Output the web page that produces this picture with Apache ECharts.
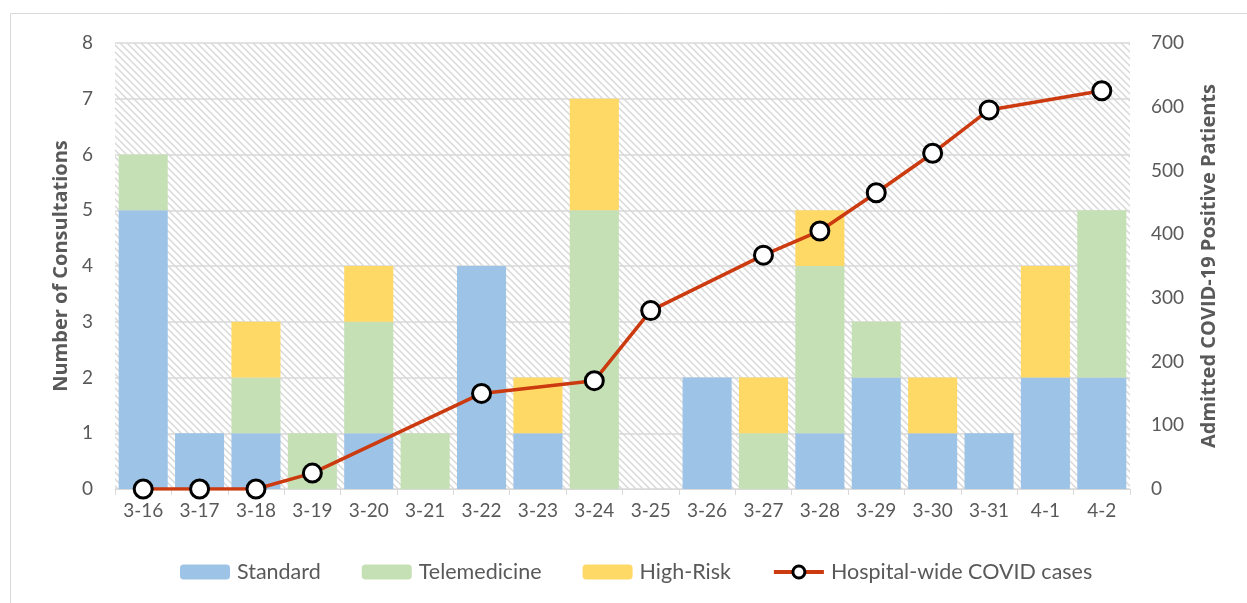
<!DOCTYPE html>
<html>
<head>
<meta charset="utf-8">
<script src="https://cdn.jsdelivr.net/npm/echarts@6/dist/echarts.min.js"></script>
<style>
  html, body { margin: 0; padding: 0; background: #fff; }
  #chart { width: 1247px; height: 603px; }
</style>
</head>
<body>
<div id="chart"></div>
<script>
const days = ['3-16', '3-17', '3-18', '3-19', '3-20', '3-21', '3-22', '3-23', '3-24',
  '3-25', '3-26', '3-27', '3-28', '3-29', '3-30', '3-31', '4-1', '4-2'];
const standard     = [5, 1, 1, 0, 1, 0, 4, 1, 0, 0, 2, 0, 1, 2, 1, 1, 2, 2];
const telemedicine = [1, 0, 1, 1, 2, 1, 0, 0, 5, 0, 0, 1, 3, 1, 0, 0, 0, 3];
const highRisk     = [0, 0, 1, 0, 1, 0, 0, 1, 2, 0, 0, 1, 1, 0, 1, 0, 2, 0];
// hospital-wide cases, only some days were reported
const covidCases   = [0, 0, 0, 25, null, null, 150, null, 170, 280, null, 367, 405, 465, 527, 595, null, 625];
const leftTicks = [0, 1, 2, 3, 4, 5, 6, 7, 8];
const rightTicks = [0, 100, 200, 300, 400, 500, 600, 700];

// diagonal hatch for plot background
const hatch = document.createElement('canvas');
hatch.width = 7;
hatch.height = 7;
const hc = hatch.getContext('2d');
hc.strokeStyle = '#d9d9d9';
hc.lineWidth = 1.5;
hc.beginPath();
hc.moveTo(-1, -1); hc.lineTo(8, 8);
hc.moveTo(-8, -1); hc.lineTo(1, 8);
hc.moveTo(6, -1); hc.lineTo(15, 8);
hc.stroke();

const font = 'Lato, "Open Sans", sans-serif';
const nameFont = '"Open Sans", Lato, sans-serif';
const labelColor = '#595959';

const chart = echarts.init(document.getElementById('chart'));

const barSeries = (name, data, color) => ({
  name: name,
  type: 'bar',
  stack: 'consults',
  barCategoryGap: '13%',
  itemStyle: { color: color },
  data: data
});

chart.setOption({
  animation: false,
  textStyle: { fontFamily: font },
  graphic: [{
    type: 'rect',
    shape: { x: 10.5, y: 13.5, width: 1300, height: 700 },
    style: { fill: 'none', stroke: '#d9d9d9', lineWidth: 1 },
    silent: true
  }],
  grid: {
    left: 115,
    right: 117,
    top: 43,
    bottom: 114,
    show: true,
    borderWidth: 0,
    backgroundColor: { image: hatch, repeat: 'repeat' }
  },
  legend: {
    bottom: 15,
    left: 175,
    itemWidth: 50,
    itemHeight: 15,
    itemGap: 41,
    textStyle: { fontSize: 21.5, color: labelColor, fontFamily: font, padding: [0, 0, 0, 2] },
    data: ['Standard', 'Telemedicine', 'High-Risk', {
      name: 'Hospital-wide COVID cases',
      lineStyle: { width: 4 },
      itemStyle: { borderWidth: 3 }
    }]
  },
  xAxis: {
    type: 'category',
    data: days,
    axisLine: { lineStyle: { color: '#d9d9d9', width: 1 } },
    axisTick: { show: true, length: 6, lineStyle: { color: '#d9d9d9' } },
    axisLabel: { color: labelColor, fontSize: 19, margin: 12 }
  },
  yAxis: [{
    type: 'value',
    min: leftTicks[0],
    max: leftTicks[leftTicks.length - 1],
    interval: 1,
    name: 'Number of Consultations',
    nameLocation: 'middle',
    nameGap: 44,
    nameTextStyle: { fontSize: 20, fontWeight: 'bold', color: labelColor, fontFamily: nameFont },
    axisLine: { show: false },
    axisTick: { show: false },
    axisLabel: { color: labelColor, fontSize: 19, margin: 22 },
    splitLine: { lineStyle: { color: '#d9d9d9', width: 1.5 } }
  }, {
    type: 'value',
    min: rightTicks[0],
    max: rightTicks[rightTicks.length - 1],
    interval: 100,
    name: 'Admitted COVID-19 Positive Patients',
    nameLocation: 'middle',
    nameGap: 69,
    nameRotate: 90,
    nameTextStyle: { fontSize: 20, fontWeight: 'bold', color: labelColor, fontFamily: nameFont },
    axisLine: { show: false },
    axisTick: { show: false },
    axisLabel: { color: labelColor, fontSize: 19, margin: 21 },
    splitLine: { show: false }
  }],
  series: [
    barSeries('Standard', standard, '#9dc3e6'),
    barSeries('Telemedicine', telemedicine, '#c5e0b4'),
    barSeries('High-Risk', highRisk, '#ffd966'),
    {
      name: 'Hospital-wide COVID cases',
      type: 'line',
      yAxisIndex: 1,
      connectNulls: true,
      symbol: 'circle',
      symbolSize: 18,
      lineStyle: { color: '#cc3a0f', width: 3.5 },
      itemStyle: { color: '#ffffff', borderColor: '#000000', borderWidth: 3 },
      z: 5,
      data: covidCases
    }
  ]
});
</script>
</body>
</html>
